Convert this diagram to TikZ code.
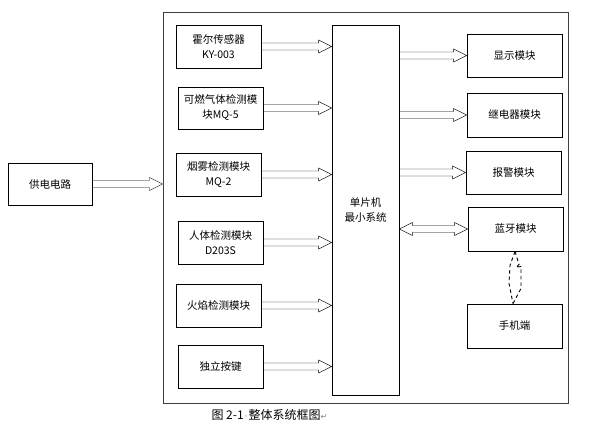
\documentclass[tikz,border=0pt]{standalone}
\usepackage{fontspec}
\setmainfont{Noto Sans CJK SC}
\newfontfamily\symfont{DejaVu Sans}
\usetikzlibrary{calc}
\begin{document}
\begin{tikzpicture}[x=1pt,y=-1pt,
  box/.style={draw=black, line width=0.8pt, inner sep=0pt, align=center,
    font=\fontsize{10.5}{15}\selectfont},
  lbox/.style={box, minimum width=85pt, minimum height=43pt},
  rbox/.style={box, minimum width=95pt, minimum height=44pt},
  harrow/.style={line width=1.2pt, line join=miter, to path={let \p1=(\tikztostart), \p2=(\tikztotarget) in
    (\x1,\y1+3.5pt) -- (\x2-13pt,\y1+3.5pt) -- (\x2-13pt,\y1+6.5pt) -- (\x2,\y1)
    -- (\x2-13pt,\y1-6.5pt) -- (\x2-13pt,\y1-3.5pt) -- (\x1,\y1-3.5pt) -- cycle}},
  dharrow/.style={line width=1.2pt, line join=miter, to path={let \p1=(\tikztostart), \p2=(\tikztotarget) in
    (\x1+13pt,\y1+3.5pt) -- (\x2-13pt,\y1+3.5pt) -- (\x2-13pt,\y1+6.5pt) -- (\x2,\y1)
    -- (\x2-13pt,\y1-6.5pt) -- (\x2-13pt,\y1-3.5pt) -- (\x1+13pt,\y1-3.5pt)
    -- (\x1+13pt,\y1-6.5pt) -- (\x1,\y1) -- (\x1+13pt,\y1+6.5pt) -- cycle}},
  dashlink/.style={line width=0.9pt, dash pattern=on 3.5pt off 3pt}
]
\useasboundingbox (0,0) rectangle (593,440);

% outer frame
\node[draw=black!75, line width=1pt, minimum width=405pt, minimum height=391pt, inner sep=0pt]
  (frame) at (365.5,207.5) {};

% power
\node[box, minimum width=84pt, minimum height=42pt] (power) at (50,184) {供电电路};

% left column
\node[lbox] (hall)  at (218.5,46.5)  {霍尔传感器\\KY-003};
\node[lbox, minimum height=42pt] (gas) at (220.5,108) {可燃气体检测模\\块MQ-5};
\node[lbox] (smoke) at (218.5,174.5) {烟雾检测模块\\MQ-2};
\node[lbox] (body)  at (220.5,242.5) {人体检测模块\\D203S};
\node[lbox] (flame) at (218.5,305.5) {火焰检测模块};
\node[lbox] (key)   at (220.5,366.5) {独立按键};

% MCU
\node[box, minimum width=67pt, minimum height=370pt] (mcu) at (365.5,210) {单片机\\最小系统};

% right column
\node[rbox, minimum height=43pt] (disp)  at (514.5,55.5)  {显示模块};
\node[rbox] (relay) at (514.5,115)   {继电器模块};
\node[rbox, minimum height=43pt] (alarm) at (513.5,172.5) {报警模块};
\node[rbox] (bt)    at (515.5,229)   {蓝牙模块};
\node[rbox] (phone) at (514.5,326)   {手机端};

% arrows
\draw (power.east) to[harrow] (frame.west |- power.east);
\foreach \nm in {hall,gas,smoke,body,flame,key}
  \draw (\nm.east) to[harrow] (mcu.west |- \nm.east);
\foreach \nm in {disp,relay,alarm}
  \draw (mcu.east |- \nm.west) to[harrow] (\nm.west);
\draw (mcu.east |- bt.west) to[dharrow] (bt.west);

% wireless link
\coordinate (wt) at ($(bt.south)+(-0.5,0)$);
\coordinate (wb) at ($(phone.north)+(-1.5,0)$);
\draw[dashlink] (wt) -- ++(-5,14) -- ++(-1,18) -- (wb);
\draw[dashlink] (wt) -- ++(4,13) -- ++(-3,3) -- ++(5,-1) -- ++(0,22) -- (wb);

% caption
\node[font=\fontsize{12}{14}\selectfont, anchor=west] (cap) at (208,415)
  {图 2-1\kern1pt{\symfont\fontsize{9}{10}\selectfont\color{gray}·}\kern1pt 整体系统框图{\symfont\fontsize{8}{10}\selectfont\color{gray}↵}};
\end{tikzpicture}
\end{document}
